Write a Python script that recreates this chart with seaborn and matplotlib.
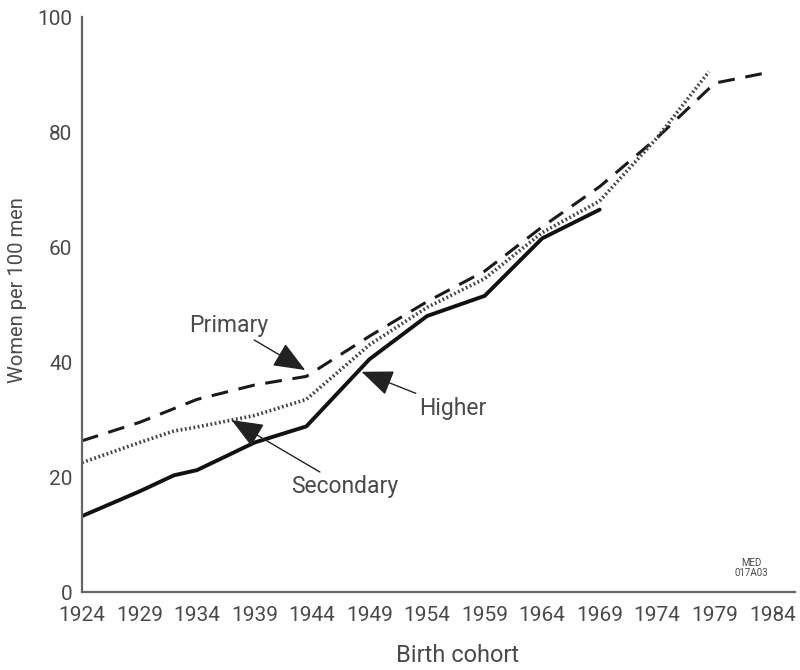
import pandas as pd
import numpy as np
import matplotlib.pyplot as plt
import seaborn as sns

# Values (women per 100 men, by birth cohort)
higher_years = [1924, 1929, 1932, 1934, 1939, 1943.5, 1949, 1954, 1959, 1964, 1969]
higher_vals = [13.2, 17.5, 20.3, 21.2, 26.0, 28.8, 40.5, 48.0, 51.5, 61.5, 66.5]

primary_years = [1924, 1929, 1934, 1939, 1943.5, 1949, 1954, 1959, 1964, 1969, 1974, 1979, 1984]
primary_vals = [26.3, 29.5, 33.5, 36.0, 37.5, 44.5, 50.5, 55.8, 63.5, 70.5, 79.0, 88.5, 90.5]

secondary_years = [1924, 1929, 1932, 1934, 1939, 1943.5, 1949, 1954, 1959, 1964, 1969, 1974, 1978.5]
secondary_vals = [22.5, 26.0, 28.0, 28.7, 30.7, 33.5, 43.0, 49.5, 54.5, 62.5, 68.0, 79.0, 90.5]

tick_years = list(range(1924, 1985, 5))
y_ticks = [0, 20, 40, 60, 80, 100]

sns.set_style('white')
plt.rcParams['font.family'] = ['Roboto', 'DejaVu Sans']
grey = '#4a4a4a'

fig = plt.figure(figsize=(8, 6.7), dpi=100)
ax = fig.add_axes([0.1025, 0.1164, 0.8915, 0.8582])

df_p = pd.DataFrame({'year': primary_years, 'value': primary_vals})
df_s = pd.DataFrame({'year': secondary_years, 'value': secondary_vals})
df_h = pd.DataFrame({'year': higher_years, 'value': higher_vals})

sns.lineplot(data=df_p, x='year', y='value', ax=ax, color='#1a1a1a', lw=2.2)
ax.lines[-1].set_dashes((5.5, 3.5))
sns.lineplot(data=df_s, x='year', y='value', ax=ax, color='#444444', lw=2.6)
ax.lines[-1].set_linestyle((0, (0.5, 0.7)))
sns.lineplot(data=df_h, x='year', y='value', ax=ax, color='#111111', lw=2.8)

ax.set_xlim(1924, 1986)
ax.set_ylim(0, 100)
ax.set_xticks(tick_years)
ax.set_yticks(y_ticks)
ax.tick_params(axis='both', labelsize=15, colors=grey, length=5, width=1.2, direction='out')
ax.tick_params(axis='x', pad=5)
ax.tick_params(axis='y', pad=2)
for s in ['top', 'right']:
    ax.spines[s].set_visible(False)
for s in ['left', 'bottom']:
    ax.spines[s].set_color('#666666')
    ax.spines[s].set_linewidth(1.6)

ax.set_xlabel('Birth cohort', fontsize=17, color=grey, va='center')
ax.set_ylabel('Women per 100 men', fontsize=14.5, color=grey, va='center')
ax.xaxis.set_label_coords(0.527, -0.11)
ax.yaxis.set_label_coords(-0.09, 0.525)

arrow = dict(arrowstyle='-|>,head_length=1.1,head_width=0.45', mutation_scale=18,
             color='#222222', lw=1.0, shrinkA=0, shrinkB=0)
ax.annotate('Primary', xy=(1943.4, 38.6), xytext=(1936.8, 46.4), fontsize=16.5,
            color=grey, ha='center', va='center', arrowprops=arrow)
ax.annotate('Higher', xy=(1948.3, 38.3), xytext=(1953.3, 32.0), fontsize=16.5,
            color=grey, ha='left', va='center', arrowprops=arrow)
ax.annotate('Secondary', xy=(1937.0, 29.9), xytext=(1942.2, 18.3), fontsize=16.5,
            color=grey, ha='left', va='center', arrowprops=arrow)
ax.text(1982.2, 4.2, 'MED\n017A03', fontsize=7, color=grey, ha='center', va='center',
        linespacing=1.0)

plt.savefig('out.png', dpi=100)
